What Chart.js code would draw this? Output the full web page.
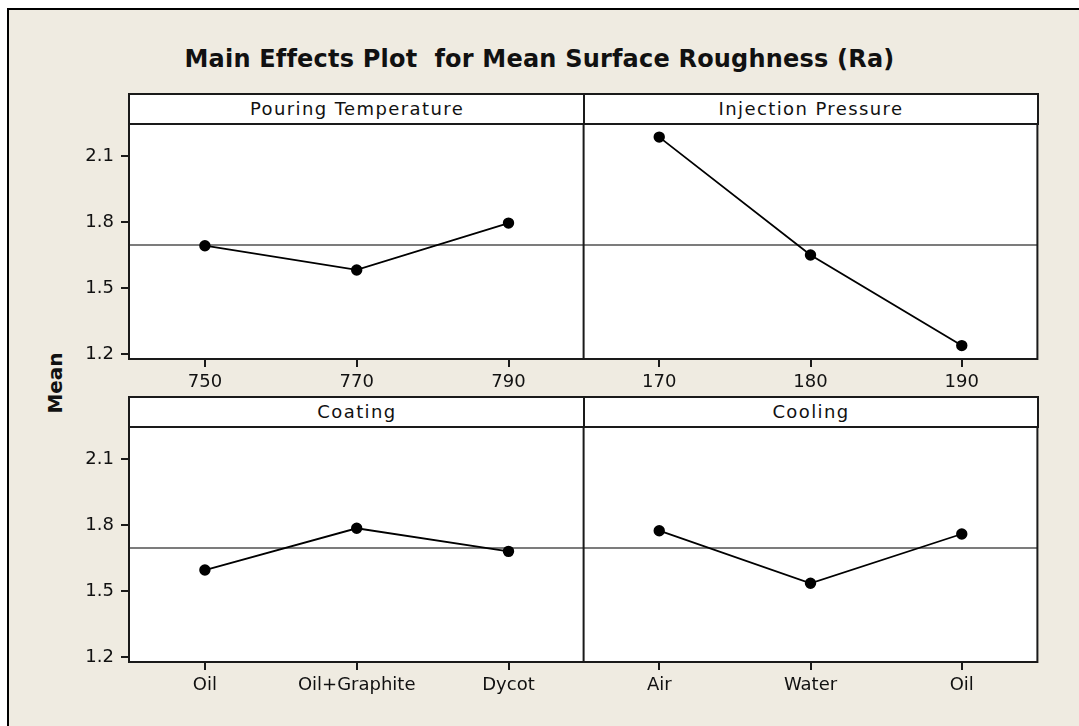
<!DOCTYPE html>
<html>
<head>
<meta charset="utf-8">
<script src="https://cdn.jsdelivr.net/npm/chart.js@4.4.1/dist/chart.umd.min.js"></script>
<style>
  html, body { margin: 0; padding: 0; background: #fff; }
  #page { position: relative; width: 1079px; height: 726px; overflow: hidden; background: #fff; }
  #frame { position: absolute; left: 7px; top: 8px; width: 1100px; height: 740px;
           background: #efebe1; border-left: 2px solid #000; border-top: 2px solid #000; }
  canvas { position: absolute; }
  .strip { position: absolute; box-sizing: border-box; height: 32px; background: #fff;
           border: 2px solid #1a1a1a; font: 18px "DejaVu Sans", sans-serif; color: #111;
           text-align: center; line-height: 27px; letter-spacing: 1.4px; z-index: 5; }
  #title { position: absolute; left: 0; width: 1079px; top: 45px; text-align: center;
           font: bold 24px "DejaVu Sans", sans-serif; color: #111; letter-spacing: 0.2px; }
  #ylab { position: absolute; left: 55px; top: 383px; transform: translate(-50%, -50%) rotate(-90deg);
          font: bold 20px "DejaVu Sans", sans-serif; color: #111; }
</style>
</head>
<body>
<div id="page">
  <div id="frame"></div>
  <div id="title">Main Effects Plot&nbsp; for Mean Surface Roughness (Ra)</div>
  <div id="ylab">Mean</div>
  <canvas id="c1" width="591" height="310" style="left:0px;top:100px"></canvas>
  <canvas id="c2" width="467" height="310" style="left:577px;top:100px"></canvas>
  <canvas id="c3" width="591" height="310" style="left:0px;top:403px"></canvas>
  <canvas id="c4" width="467" height="310" style="left:577px;top:403px"></canvas>
  <div class="strip" style="left:128px;top:93px;width:458px">Pouring Temperature</div>
  <div class="strip" style="left:583px;top:93px;width:456px">Injection Pressure</div>
  <div class="strip" style="left:128px;top:396px;width:458px">Coating</div>
  <div class="strip" style="left:583px;top:396px;width:456px">Cooling</div>
</div>
<script>
// factor levels and the mean Ra read at each level
const pouringLevels = ['750', '770', '790'];
const pouringMeans = [1.692, 1.582, 1.795];
const injectionLevels = ['170', '180', '190'];
const injectionMeans = [2.186, 1.650, 1.238];
const coatingLevels = ['Oil', 'Oil+Graphite', 'Dycot'];
const coatingMeans = [1.595, 1.785, 1.680];
const coolingLevels = ['Air', 'Water', 'Oil'];
const coolingMeans = [1.774, 1.535, 1.759];
const grandMean = 1.695;
const yTicks = [1.2, 1.5, 1.8, 2.1];
const yMin = 1.177;
const yMax = 2.2455;

// white plot area, box around it, grand mean reference line
const panelPlugin = {
    id: 'panel',
    beforeDraw(chart) {
        const { ctx, chartArea: a } = chart;
        ctx.save();
        ctx.fillStyle = '#fff';
        ctx.fillRect(a.left, a.top, a.right - a.left, a.bottom - a.top);
        ctx.restore();
    },
    beforeDatasetsDraw(chart) {
        const { ctx, chartArea: a, scales } = chart;
        const y = scales.y.getPixelForValue(grandMean);
        ctx.save();
        ctx.strokeStyle = '#505050';
        ctx.lineWidth = 1.5;
        ctx.beginPath();
        ctx.moveTo(a.left, y);
        ctx.lineTo(a.right, y);
        ctx.stroke();
        ctx.restore();
    },
    afterDraw(chart) {
        const { ctx, chartArea: a } = chart;
        ctx.save();
        ctx.strokeStyle = '#1a1a1a';
        ctx.lineWidth = 2;
        ctx.strokeRect(a.left, a.top, a.right - a.left, a.bottom - a.top);
        ctx.restore();
    }
};

function makePanel(id, levels, means, showY) {
    const tickFont = { family: 'DejaVu Sans', size: 18 };
    return new Chart(document.getElementById(id), {
        type: 'line',
        data: {
            labels: levels,
            datasets: [{
                data: means,
                borderColor: '#000',
                backgroundColor: '#000',
                borderWidth: 1.8,
                pointRadius: 4.8,
                pointHoverRadius: 4.8,
                tension: 0
            }]
        },
        options: {
            responsive: false,
            animation: false,
            events: [],
            layout: { padding: showY ? { top: 24, right: 1, left: 0, bottom: 0 } : { top: 24, right: 0, left: 4, bottom: 0 } },
            plugins: { legend: { display: false }, tooltip: { enabled: false } },
            scales: {
                x: {
                    type: 'category',
                    offset: true,
                    grid: { display: true, drawOnChartArea: false, drawTicks: true, tickLength: 8, color: '#1a1a1a', lineWidth: 2, offset: false },
                    border: { display: false },
                    ticks: { color: '#111', font: tickFont, padding: 5, maxRotation: 0, autoSkip: false },
                    afterFit: s => { s.height = 51; }
                },
                y: {
                    display: showY,
                    min: yMin,
                    max: yMax,
                    afterBuildTicks: s => { s.ticks = yTicks.map(v => ({ value: v })); },
                    grid: { display: true, drawOnChartArea: false, drawTicks: true, tickLength: 8, color: '#1a1a1a', lineWidth: 2 },
                    border: { display: false },
                    ticks: { color: '#111', font: tickFont, padding: 7, callback: v => Number(v).toFixed(1) },
                    afterFit: s => { if (showY) s.width = 129; }
                }
            }
        },
        plugins: [panelPlugin]
    });
}

makePanel('c1', pouringLevels, pouringMeans, true);
makePanel('c2', injectionLevels, injectionMeans, false);
makePanel('c3', coatingLevels, coatingMeans, true);
makePanel('c4', coolingLevels, coolingMeans, false);
</script>
</body>
</html>
